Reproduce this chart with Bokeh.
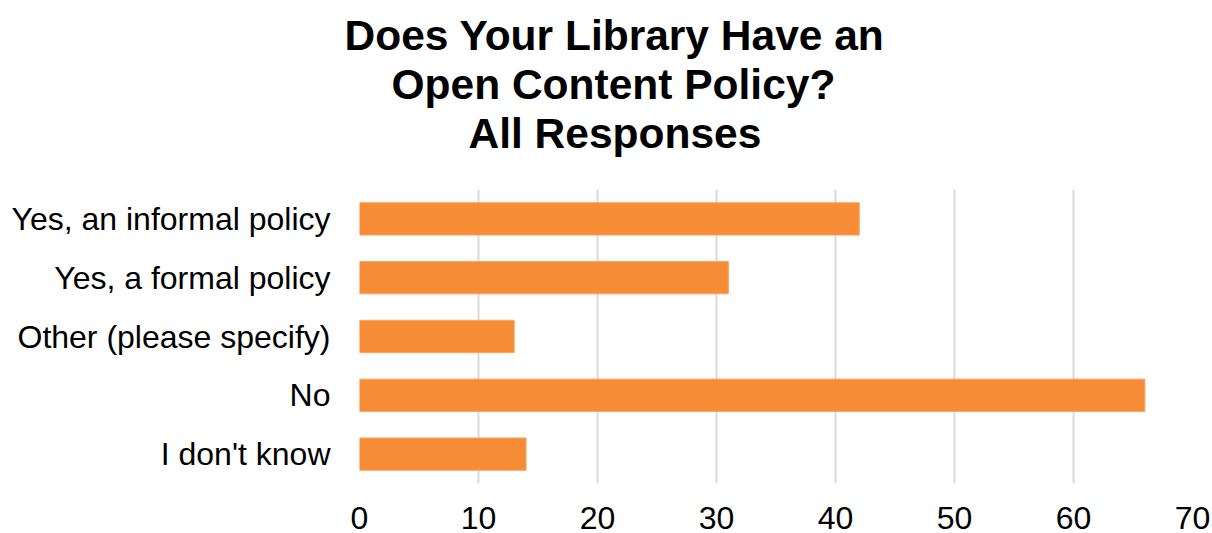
from bokeh.plotting import figure
from bokeh.models import FactorRange, Range1d, ColumnDataSource, FixedTicker, Title
from bokeh.embed import file_html
from bokeh.resources import INLINE

categories = ["Yes, an informal policy", "Yes, a formal policy", "Other (please specify)", "No", "I don't know"]
counts = [42, 31, 13, 66, 14]
x_ticks = [0, 10, 20, 30, 40, 50, 60, 70]
title_lines = ["Does Your Library Have an", "Open Content Policy?", "All Responses"]
title_offsets = [-15, 32, 109]  # horizontal shift of each title line from the frame's left edge

src = ColumnDataSource(dict(cat=categories, val=counts))

p = figure(frame_width=833, frame_height=294, output_backend="svg", toolbar_location=None,
           y_range=FactorRange(factors=list(reversed(categories)), range_padding=0),
           x_range=Range1d(0, 70),
           min_border_left=359, min_border_right=18, min_border_top=0, min_border_bottom=0)
p.title = None

def spacer(gap):
    return Title(text=" ", text_font_size="1px", standoff=gap, text_color="#ffffff")

# stacked outward from the plot: spacer, line 3, line 2, line 1, spacer
p.add_layout(spacer(30), "above")
for line, off in zip(reversed(title_lines), reversed(title_offsets)):
    p.add_layout(Title(text=line, align="left", offset=off,
                       text_font="Liberation Sans", text_font_size="42.5px",
                       text_font_style="bold", text_color="#000000",
                       text_line_height=1.0, standoff=0), "above")
p.add_layout(spacer(6), "above")

p.hbar(y="cat", right="val", left=0, height=0.55, source=src,
       fill_color="#F68D36", line_color="#F9A566", line_width=1)

p.xaxis.ticker = FixedTicker(ticks=x_ticks)
p.xaxis.axis_line_color = None
p.xaxis.major_tick_line_color = None
p.xaxis.minor_tick_line_color = None
p.xaxis.major_label_text_font = "Liberation Sans"
p.xaxis.major_label_text_font_size = "32px"
p.xaxis.major_label_text_color = "#000000"
p.xaxis.major_label_standoff = 17

p.yaxis.axis_line_color = None
p.yaxis.major_tick_line_color = None
p.yaxis.minor_tick_line_color = None
p.yaxis.major_label_text_font = "Liberation Sans"
p.yaxis.major_label_text_font_size = "32px"
p.yaxis.major_label_text_color = "#000000"
p.yaxis.major_label_standoff = 23

p.xgrid.grid_line_color = "#d9d9d9"
p.xgrid.grid_line_width = 2
p.ygrid.grid_line_color = None
p.outline_line_color = None

open("out.html", "w").write(file_html(p, INLINE))
